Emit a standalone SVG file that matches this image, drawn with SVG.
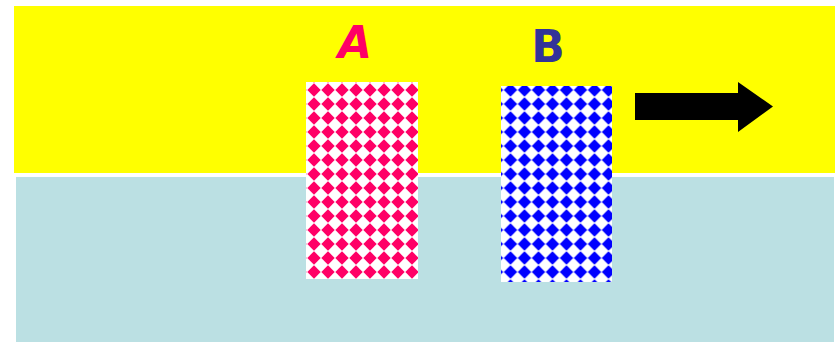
<svg xmlns="http://www.w3.org/2000/svg" width="835" height="342" viewBox="0 0 835 342">
  <style>
    .lbl { font-family: "Comic Sans MS", "DejaVu Sans", sans-serif; font-size: 44px; font-weight: bold; text-anchor: middle; }
  </style>
  <defs>
    <pattern id="pRed" patternUnits="userSpaceOnUse" x="307" y="83" width="14" height="14">
      <rect width="14" height="14" fill="#FFFFFF"/>
      <polygon points="7,0.3 13.7,7 7,13.7 0.3,7" fill="#FF0066"/>
    </pattern>
    <pattern id="pBlue" patternUnits="userSpaceOnUse" x="503.5" y="83" width="14" height="14">
      <rect width="14" height="14" fill="#FFFFFF"/>
      <polygon points="7,0.3 13.7,7 7,13.7 0.3,7" fill="#0000FF"/>
    </pattern>
  </defs>
  <rect width="835" height="342" fill="#FFFFFF"/>
  <rect x="14" y="6" width="821" height="167" fill="#FFFF00"/>
  <rect x="16" y="177" width="818" height="165" fill="#BBE0E3"/>
  <g id="nodeA">
    <rect x="306" y="82" width="112" height="197" fill="url(#pRed)"/>
    <text class="lbl" x="355" y="58" fill="#FF0066" font-style="italic">A</text>
  </g>
  <g id="nodeB">
    <rect x="501" y="86" width="111" height="196" fill="url(#pBlue)"/>
    <text class="lbl" x="548" y="62" fill="#333399">B</text>
  </g>
  <g id="connectors">
    <polygon points="635,93 738,93 738,82 773,106.5 738,132 738,120 635,120" fill="#000000"/>
  </g>
</svg>
